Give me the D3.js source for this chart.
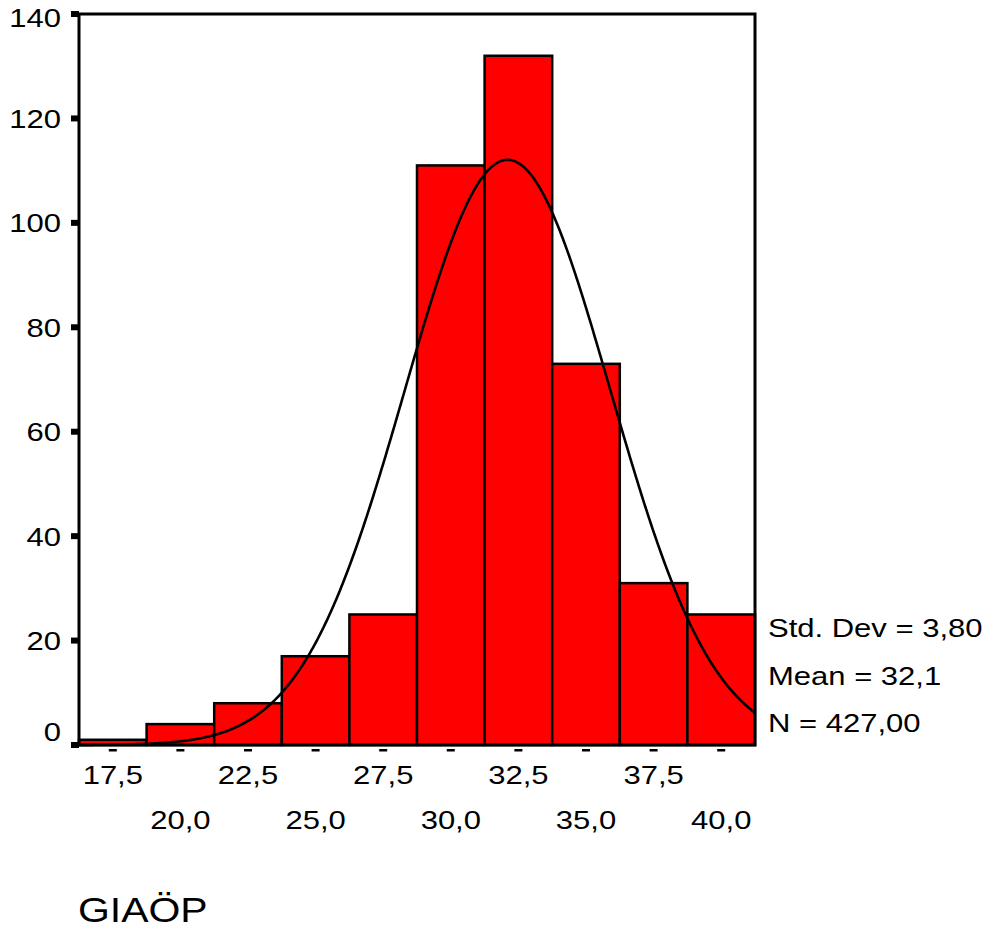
<!DOCTYPE html>
<html>
<head>
<meta charset="utf-8">
<script src="https://cdn.jsdelivr.net/npm/d3@7"></script>
<style>
  html, body { margin: 0; padding: 0; background: #fff; }
  svg { display: block; }
  text { font-family: "Liberation Sans", Arial, sans-serif; fill: #000; }
</style>
</head>
<body>
<svg id="chart" width="993" height="929"></svg>
<script>
// Histogram of GIAÖP: bin midpoints (width 2.5) and frequencies
const binCenters = [17.5, 20.0, 22.5, 25.0, 27.5, 30.0, 32.5, 35.0, 37.5, 40.0];
const counts     = [1, 4, 8, 17, 25, 111, 132, 73, 31, 25];
const binWidth = 2.5;

// Axis ticks
const yTicks = [0, 20, 40, 60, 80, 100, 120, 140];
const xTicks = [17.5, 20.0, 22.5, 25.0, 27.5, 30.0, 32.5, 35.0, 37.5, 40.0];

// Summary statistics shown beside the plot
const stdDev = 3.80;
const mean = 32.1;
const nCases = 427;
const statLabels = ["Std. Dev = 3,80", "Mean = 32,1", "N = 427,00"];
const varName = "GIAÖP";

const svg = d3.select("#chart");
const plot = { left: 79, right: 755, top: 14, bottom: 745 };
const SX = 1.17; // horizontal text stretch

const x = d3.scaleLinear()
  .domain([binCenters[0] - binWidth / 2, binCenters[binCenters.length - 1] + binWidth / 2])
  .range([plot.left, plot.right]);
const y = d3.scaleLinear().domain([0, 140]).range([plot.bottom, plot.top]);

const fmt = v => d3.format(".1f")(v).replace(".", ",");

function label(g, tx, ty, str, size, anchor, baseline) {
  return g.append("text")
    .attr("transform", `translate(${tx},${ty}) scale(${SX},1)`)
    .attr("text-anchor", anchor)
    .attr("dominant-baseline", baseline || "alphabetic")
    .style("font-size", size + "px")
    .text(str);
}

// Bars
svg.append("g").selectAll("rect")
  .data(binCenters.map((c, i) => ({ c, n: counts[i] })))
  .join("rect")
  .attr("x", d => x(d.c - binWidth / 2))
  .attr("width", d => x(d.c + binWidth / 2) - x(d.c - binWidth / 2))
  .attr("y", d => y(d.n))
  .attr("height", d => y(0) - y(d.n))
  .attr("fill", "#ff0000")
  .attr("stroke", "#000")
  .attr("stroke-width", 2.5);

// Fitted normal curve: N * binWidth * pdf(x)
const [x0, x1] = x.domain();
const curvePts = d3.range(x0, x1 + 1e-9, 0.05).map(v => {
  const z = (v - mean) / stdDev;
  return [v, nCases * binWidth * Math.exp(-0.5 * z * z) / (stdDev * Math.sqrt(2 * Math.PI))];
});
svg.append("path")
  .datum(curvePts)
  .attr("fill", "none")
  .attr("stroke", "#000")
  .attr("stroke-width", 2.6)
  .attr("d", d3.line().x(d => x(d[0])).y(d => y(d[1])));

// Frame
svg.append("rect")
  .attr("x", plot.left).attr("y", plot.top)
  .attr("width", plot.right - plot.left).attr("height", plot.bottom - plot.top)
  .attr("fill", "none").attr("stroke", "#000").attr("stroke-width", 3);

// Y axis ticks and labels
const yg = svg.append("g");
yg.selectAll("rect")
  .data(yTicks)
  .join("rect")
  .attr("x", plot.left - 8).attr("width", 8)
  .attr("y", d => y(d) - 3).attr("height", 6)
  .attr("fill", "#000");
yTicks.forEach(v => {
  const cy = Math.max(plot.top + 3, Math.min(plot.bottom - 14, y(v)));
  label(yg, 61, cy + 9.5, String(v), 26.5, "end");
});

// X axis ticks (short dashes) and staggered labels
const xg = svg.append("g");
xg.selectAll("rect")
  .data(xTicks)
  .join("rect")
  .attr("x", d => x(d) - 4).attr("width", 8)
  .attr("y", plot.bottom + 4).attr("height", 2.5)
  .attr("fill", "#000");
xTicks.forEach((v, i) => {
  label(xg, x(v), i % 2 === 0 ? 784 : 829, fmt(v), 26.5, "middle");
});

// Statistics
statLabels.forEach((s, i) => {
  label(svg, 768, 637 + i * 47.5, s, 26.5, "start");
});

// Variable name
label(svg, 78, 922, varName, 35, "start");
</script>
</body>
</html>
